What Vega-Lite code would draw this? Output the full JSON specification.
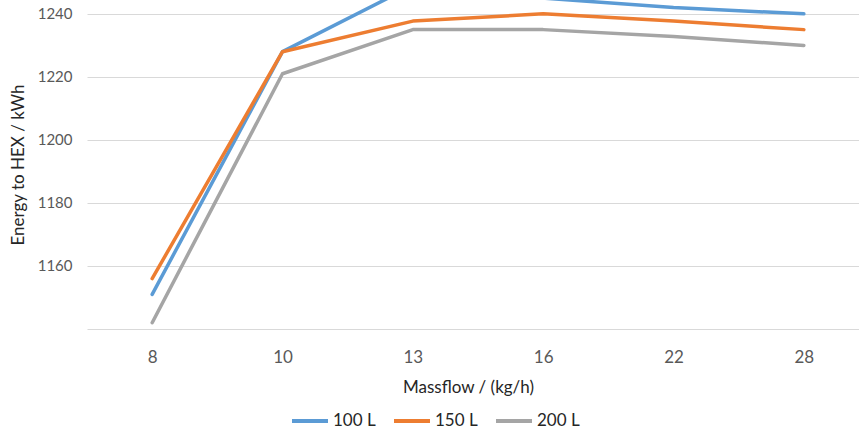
{
  "$schema": "https://vega.github.io/schema/vega-lite/v6.json",
  "width": 782,
  "height": 329,
  "autosize": {"type": "none"},
  "padding": {"left": 87, "top": 0, "right": 0, "bottom": 106},
  "background": "white",
  "config": {
    "view": {"stroke": null},
    "font": "Lato"
  },
  "data": {
    "values": [
      {"tank": "100 L", "massflow": "8", "energy": 1151},
      {"tank": "100 L", "massflow": "10", "energy": 1228},
      {"tank": "100 L", "massflow": "13", "energy": 1249},
      {"tank": "100 L", "massflow": "16", "energy": 1245},
      {"tank": "100 L", "massflow": "22", "energy": 1242},
      {"tank": "100 L", "massflow": "28", "energy": 1240},
      {"tank": "150 L", "massflow": "8", "energy": 1156},
      {"tank": "150 L", "massflow": "10", "energy": 1228},
      {"tank": "150 L", "massflow": "13", "energy": 1237.7},
      {"tank": "150 L", "massflow": "16", "energy": 1240},
      {"tank": "150 L", "massflow": "22", "energy": 1237.7},
      {"tank": "150 L", "massflow": "28", "energy": 1235},
      {"tank": "200 L", "massflow": "8", "energy": 1142},
      {"tank": "200 L", "massflow": "10", "energy": 1221},
      {"tank": "200 L", "massflow": "13", "energy": 1235},
      {"tank": "200 L", "massflow": "16", "energy": 1235},
      {"tank": "200 L", "massflow": "22", "energy": 1232.8},
      {"tank": "200 L", "massflow": "28", "energy": 1230}
    ]
  },
  "mark": {"type": "line", "strokeWidth": 3.5, "clip": true, "strokeCap": "round", "strokeJoin": "round"},
  "encoding": {
    "x": {
      "field": "massflow",
      "type": "ordinal",
      "sort": ["8", "10", "13", "16", "22", "28"],
      "scale": {"type": "point", "padding": 0.5},
      "axis": {
        "title": "Massflow / (kg/h)",
        "titleFont": "Lato",
        "titleFontSize": 17,
        "titleFontWeight": "normal",
        "titleColor": "#262626",
        "titlePadding": 14,
        "titleX": 381,
        "labelFont": "Lato",
        "labelFontSize": 17,
        "labelColor": "#595959",
        "labelPadding": 20,
        "labelAngle": 0,
        "ticks": false,
        "domainColor": "#d9d9d9",
        "domainWidth": 1,
        "grid": false
      }
    },
    "y": {
      "field": "energy",
      "type": "quantitative",
      "scale": {"domain": [1140, 1244.4], "nice": false, "zero": false},
      "axis": {
        "title": "Energy to HEX / kWh",
        "titleFont": "Lato",
        "titleFontSize": 17,
        "titleFontWeight": "normal",
        "titleColor": "#262626",
        "titlePadding": 10,
        "format": "d",
        "values": [1160, 1180, 1200, 1220, 1240],
        "labelFont": "Lato",
        "labelFontSize": 15,
        "labelColor": "#595959",
        "labelPadding": 15,
        "ticks": false,
        "domain": false,
        "gridColor": "#d9d9d9",
        "gridWidth": 1
      }
    },
    "color": {
      "field": "tank",
      "type": "nominal",
      "scale": {"domain": ["100 L", "150 L", "200 L"], "range": ["#5B9BD5", "#ED7D31", "#A5A5A5"]},
      "legend": {
        "title": null,
        "orient": "none",
        "direction": "horizontal",
        "legendX": 203,
        "legendY": 401,
        "symbolType": "stroke",
        "symbolSize": 1296,
        "symbolStrokeWidth": 4,
        "labelFont": "Lato",
        "labelFontSize": 17,
        "labelColor": "#262626",
        "labelOffset": 3,
        "columnPadding": 10
      }
    }
  }
}
